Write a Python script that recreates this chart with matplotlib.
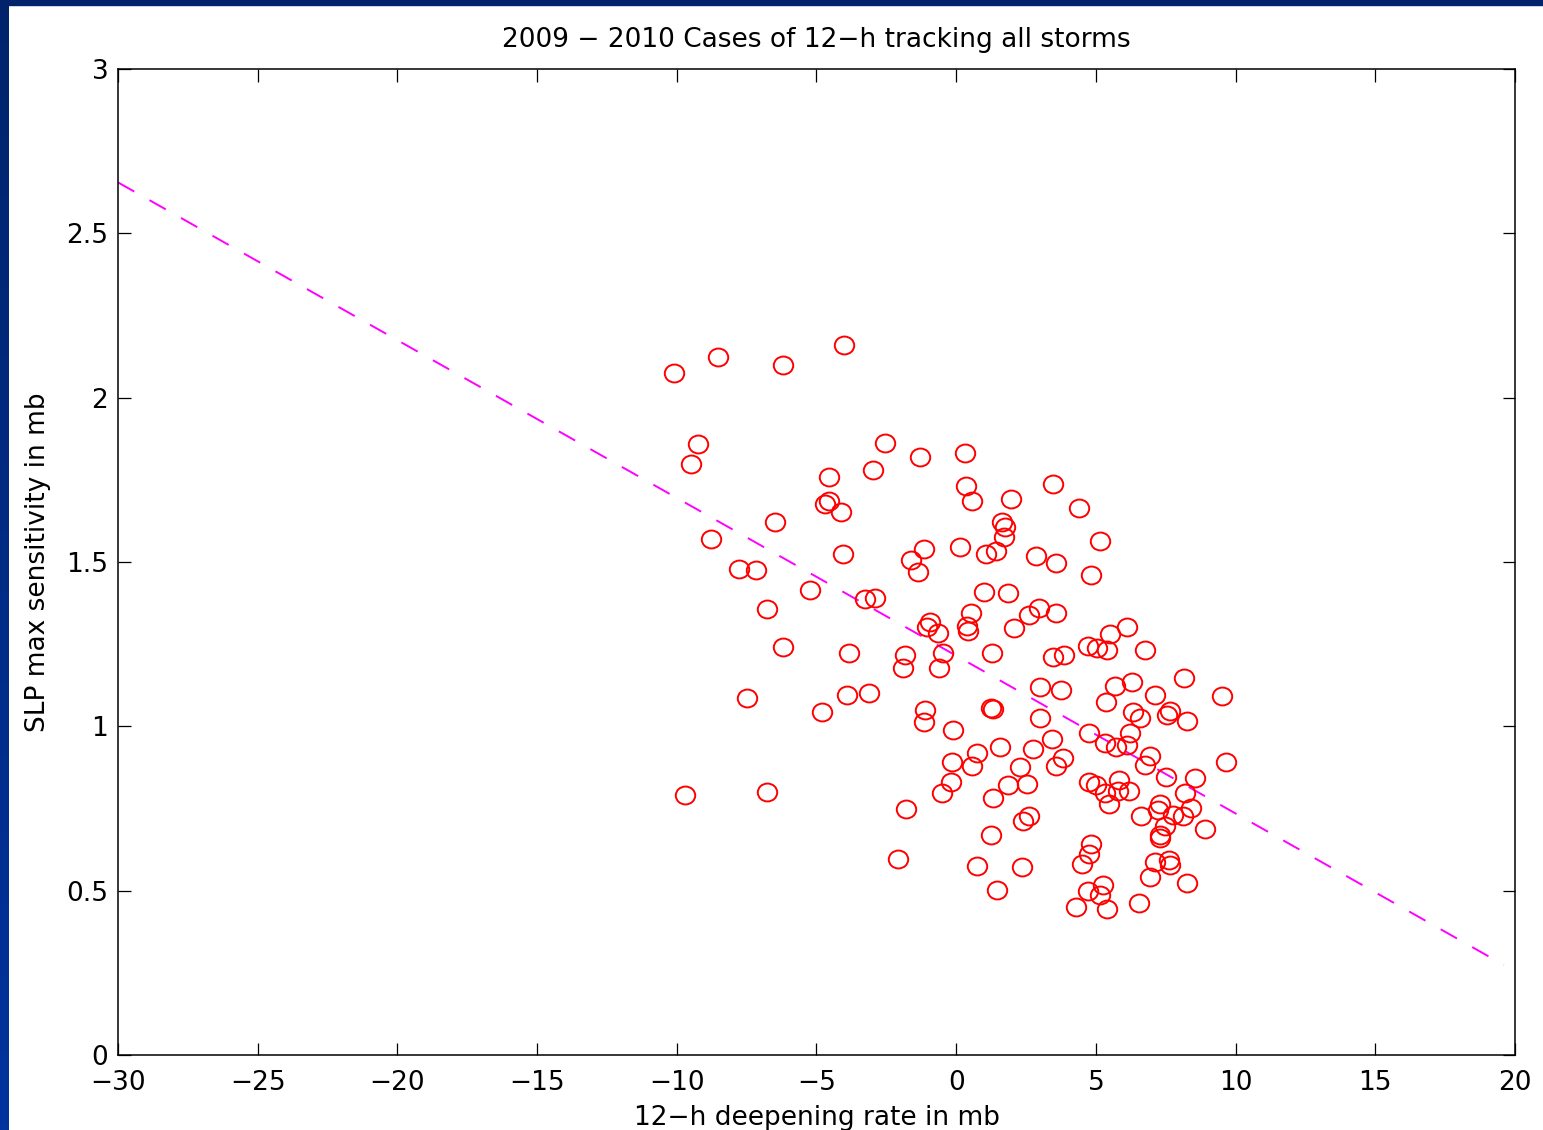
import numpy as np
import matplotlib
matplotlib.use("Agg")
import matplotlib.pyplot as plt
from matplotlib.path import Path
from matplotlib.patches import Rectangle

plt.rcParams['font.family'] = ['DejaVu Sans']

# 12-h deepening rate (mb) for each case
deepening = [
    -10.09, -8.51, -6.19, -4.02, -9.23, -9.50, -2.54, -1.28, -2.96, -4.55,
    -4.55, -4.70, -4.12, -6.47, 0.31, 0.36, 0.58, 1.96, 3.48, 4.41,
    1.65, 1.75, -8.78, -4.04, -1.16, -1.61, -1.35, -7.76, -7.17, -5.24,
    -3.25, -2.91, -6.78, -0.92, -1.03, -0.64, -6.21, -3.83, -1.82, -1.89,
    -0.46, -0.61, -7.50, -3.90, -3.13, -4.80, -1.11, -1.17, 1.71, 0.14,
    1.08, 1.42, 2.87, 3.57, 5.15, 4.82, 0.99, 1.85, 0.54, 0.38,
    0.42, 2.06, 2.62, 2.95, 3.56, 6.10, 5.50, 4.70, 5.04, 5.39,
    6.76, 1.28, 3.45, 3.85, 3.00, 3.74, 5.68, 6.28, 8.14, 7.12,
    9.53, 5.35, 1.26, 1.30, 6.32, 6.58, 7.53, 7.65, 8.25, 3.00,
    -0.13, 4.76, 6.22, 3.44, 5.34, 5.73, 6.12, 6.95, 6.74, 9.66,
    0.76, 1.56, 2.74, 3.83, 3.56, -0.16, 0.57, 2.28, -0.19, -0.51,
    1.86, 2.53, 1.32, 4.74, 5.01, 5.83, 5.31, 5.79, 6.18, 5.47,
    7.51, 8.55, 8.19, 7.31, 7.23, 7.77, 8.11, 8.41, 6.61, 7.49,
    7.29, 7.31, 8.89, 2.62, 2.39, 1.25, 4.81, 4.77, 4.52, 0.73,
    2.34, 7.13, 7.63, 7.65, 6.92, 8.26, 1.45, 4.70, 5.24, 5.13,
    4.28, 5.39, 6.55, -9.71, -6.78, -1.79, -2.07,
]

# SLP max sensitivity (mb) for each case
sensitivity = [
    2.074, 2.123, 2.098, 2.159, 1.858, 1.799, 1.861, 1.820, 1.779, 1.760,
    1.687, 1.677, 1.652, 1.621, 1.833, 1.732, 1.686, 1.691, 1.738, 1.665,
    1.621, 1.608, 1.569, 1.524, 1.539, 1.506, 1.471, 1.478, 1.476, 1.415,
    1.387, 1.389, 1.356, 1.316, 1.303, 1.283, 1.242, 1.222, 1.216, 1.179,
    1.222, 1.177, 1.087, 1.095, 1.101, 1.043, 1.050, 1.012, 1.575, 1.545,
    1.525, 1.532, 1.518, 1.498, 1.563, 1.461, 1.410, 1.407, 1.344, 1.305,
    1.290, 1.299, 1.339, 1.359, 1.344, 1.301, 1.280, 1.245, 1.237, 1.232,
    1.231, 1.222, 1.210, 1.216, 1.121, 1.112, 1.124, 1.135, 1.147, 1.096,
    1.092, 1.075, 1.055, 1.053, 1.045, 1.025, 1.036, 1.048, 1.017, 1.025,
    0.989, 0.981, 0.980, 0.961, 0.949, 0.938, 0.944, 0.910, 0.882, 0.892,
    0.918, 0.937, 0.930, 0.903, 0.879, 0.892, 0.879, 0.875, 0.832, 0.796,
    0.822, 0.824, 0.783, 0.831, 0.822, 0.838, 0.797, 0.803, 0.803, 0.764,
    0.847, 0.843, 0.798, 0.764, 0.746, 0.730, 0.727, 0.752, 0.727, 0.697,
    0.668, 0.659, 0.689, 0.727, 0.712, 0.669, 0.641, 0.612, 0.580, 0.575,
    0.571, 0.588, 0.592, 0.578, 0.543, 0.522, 0.501, 0.499, 0.516, 0.488,
    0.451, 0.443, 0.461, 0.790, 0.801, 0.750, 0.597,
]

# end points of the fitted line
fit_x = [-30, 19.6]
fit_y = [2.655, 0.274]

x_ticks = [-30, -25, -20, -15, -10, -5, 0, 5, 10, 15, 20]
y_ticks = [0, 0.5, 1, 1.5, 2, 2.5, 3]
y_tick_labels = ['0', '0.5', '1', '1.5', '2', '2.5', '3']


def main():
    fig = plt.figure(figsize=(15.43, 11.30), dpi=100)
    fig.patch.set_facecolor('white')

    # dark blue slide frame along the top and left edges
    fig.patches.append(Rectangle((0, 1 - 5 / 1130), 1, 5 / 1130,
                                 transform=fig.transFigure, color='#00236b', zorder=0))
    edge = fig.add_axes([0, 0, 9 / 1543, 1])
    shade = np.linspace(0, 1, 200)[:, None, None]
    top = np.array([0.0, 0.14, 0.42])
    bottom = np.array([0.0, 0.2, 0.62])
    grad = top + (bottom - top) * shade
    edge.imshow(np.repeat(grad, 2, axis=1), aspect='auto')
    edge.axis('off')

    ax = fig.add_axes([118 / 1543, 75 / 1130, 1397 / 1543, 986 / 1130])

    # slightly flattened circle, as the markers appear on screen
    circle = Path.unit_circle()
    oval = Path(circle.vertices * [1.0, 0.92], circle.codes)

    ax.plot(fit_x, fit_y, color='#ff00ff', linewidth=1.4, dashes=(9.6, 9.0))
    ax.plot(deepening, sensitivity, linestyle='none', marker=oval,
            markersize=14, markerfacecolor='none', markeredgecolor='red',
            markeredgewidth=1.4)

    ax.set_xlim(-30, 20)
    ax.set_ylim(0, 3)
    ax.set_xticks(x_ticks)
    ax.set_yticks(y_ticks)
    ax.set_yticklabels(y_tick_labels)
    ax.tick_params(direction='in', length=9, width=0.9, top=True, right=True,
                   labelsize=19)
    ax.tick_params(axis='x', pad=11)
    ax.tick_params(axis='y', pad=7)
    for spine in ax.spines.values():
        spine.set_linewidth(1.1)

    ax.set_title('2009 \u2212 2010 Cases of 12\u2212h tracking all storms',
                 fontsize=19, pad=16)
    ax.set_xlabel('12\u2212h deepening rate in mb', fontsize=19, labelpad=6)
    ax.set_ylabel('SLP max sensitivity in mb', fontsize=19, labelpad=11)

    fig.savefig('out.png', dpi=100)


main()
